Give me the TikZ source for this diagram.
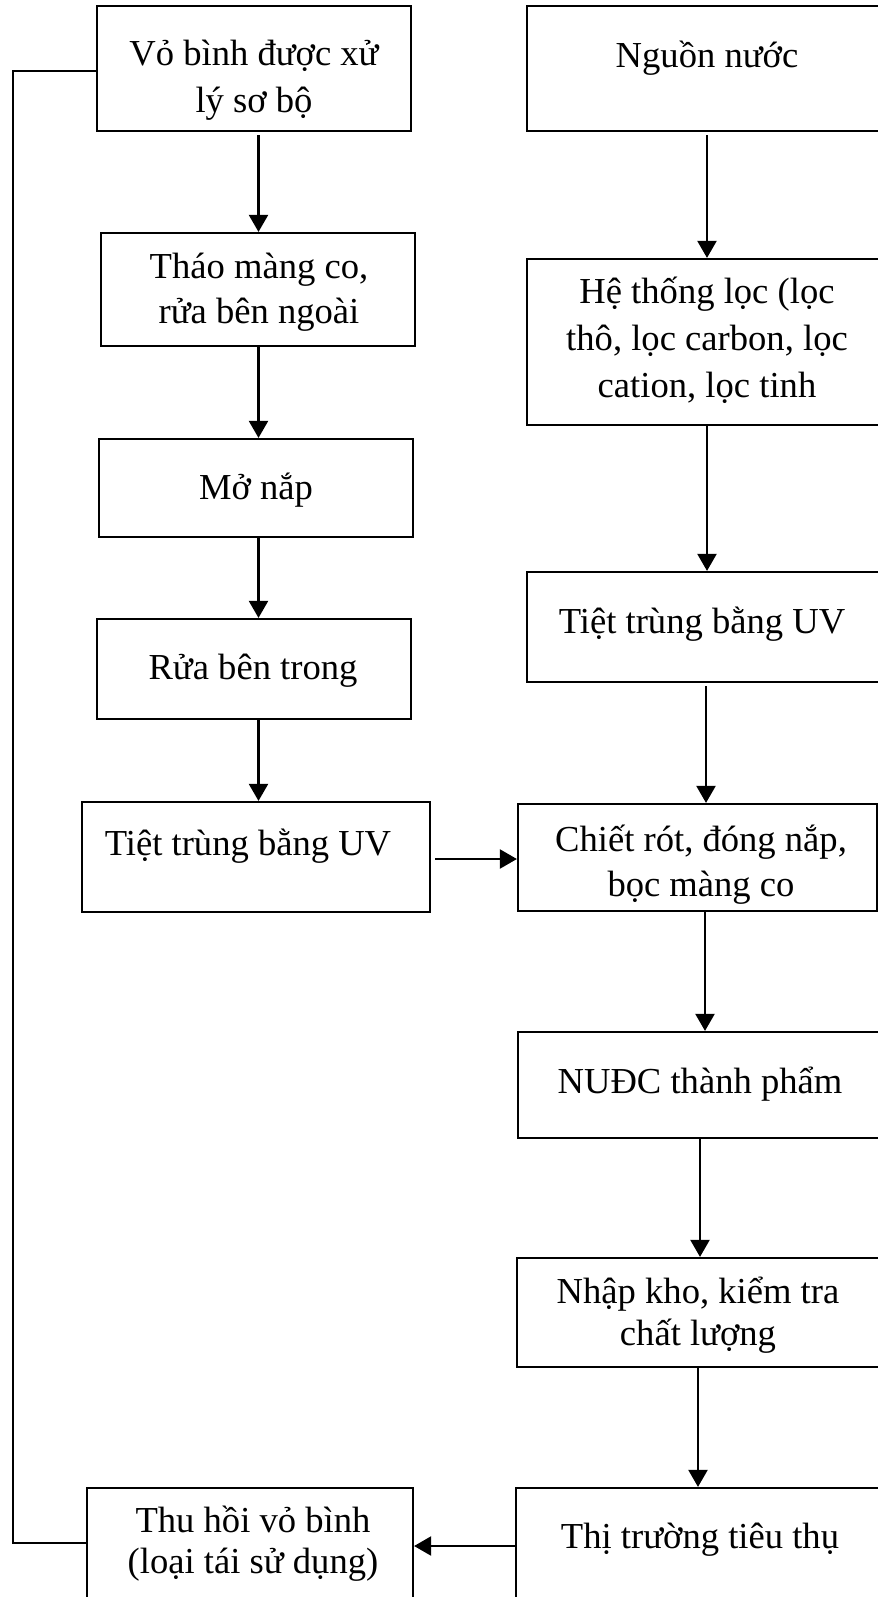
\documentclass[tikz,border=0pt]{standalone}
\usepackage{fontspec}
\setmainfont{Liberation Serif}
\usetikzlibrary{arrows.meta,fit}
\newcommand\mlines[1]{\begin{tabular}[t]{@{}c@{}}#1\end{tabular}}
\tikzset{
  box/.style={draw, line width=1.1pt, inner sep=0pt, rectangle},
  txt/.style={anchor=base, inner sep=0pt, font=\fontsize{18.3}{22.5}\selectfont},
  arr/.style={line width=1.1pt, -{Triangle[width=9.5pt,length=8.5pt]}},
  fb/.style={line width=0.7pt}
}
\begin{document}
\begin{tikzpicture}[x=0.5pt,y=-0.5pt]
\useasboundingbox (0,0) rectangle (878,1597);
% left column boxes
\node[box, fit={(97,6) (411,131)}] (b1) {};
\node[box, fit={(101,233) (415,346)}] (b2) {};
\node[box, fit={(99,439) (413,537)}] (b3) {};
\node[box, fit={(97,619) (411,719)}] (b4) {};
\node[box, fit={(82,802) (430,912)}] (b5) {};
\node[box, fit={(87,1488) (413,1612)}] (b6) {};
% right column boxes
\node[box, fit={(527,6) (887,131)}] (r1) {};
\node[box, fit={(527,259) (887,425)}] (r2) {};
\node[box, fit={(527,572) (887,682)}] (r3) {};
\node[box, fit={(518,804) (877,911)}] (r4) {};
\node[box, fit={(518,1032) (887,1138)}] (r5) {};
\node[box, fit={(517,1258) (887,1367)}] (r6) {};
\node[box, fit={(516,1488) (887,1612)}] (r7) {};
% texts
\node[txt, font=\fontsize{18.3}{23.5}\selectfont] (t1) at (254,65) {\mlines{Vỏ bình được xử\\lý sơ bộ}};
\node[txt] (t2) at (259,278) {\mlines{Tháo màng co,\\rửa bên ngoài}};
\node[txt] (t3) at (256,499) {Mở nắp};
\node[txt] (t4) at (253,679) {Rửa bên trong};
\node[txt] (t5) at (248,855) {Tiệt trùng bằng UV};
\node[txt, font=\fontsize{18.3}{20.5}\selectfont] (t6) at (253,1532) {\mlines{Thu hồi vỏ bình\\(loại tái sử dụng)}};
\node[txt] (s1) at (707,67) {Nguồn nước};
\node[txt, font=\fontsize{18.3}{23.5}\selectfont] (s2) at (707,303) {\mlines{Hệ thống lọc (lọc\\thô, lọc carbon, lọc\\cation, lọc tinh}};
\node[txt] (s3) at (702,633) {Tiệt trùng bằng UV};
\node[txt] (s4) at (701,851) {\mlines{Chiết rót, đóng nắp,\\bọc màng co}};
\node[txt] (s5) at (700,1093) {NUĐC thành phẩm};
\node[txt, font=\fontsize{18.3}{21}\selectfont] (s6) at (698,1303) {\mlines{Nhập kho, kiểm tra\\chất lượng}};
\node[txt] (s7) at (700,1548) {Thị trường tiêu thụ};
% helper coordinates
\coordinate (lx) at (258.5,0);
\coordinate (rxa) at (707,0);
\coordinate (rxb) at (706,0);
\coordinate (rxc) at (705,0);
\coordinate (rxd) at (700,0);
\coordinate (rxe) at (698,0);
\coordinate (hya) at (0,859);
\coordinate (hyb) at (0,1546);
\coordinate (fbb) at (13,1543);
\coordinate (fbt) at (13,71);
% left column arrows
\draw[arr, shorten <=1.5pt] (b1.south -| lx) -- (b2.north -| lx);
\draw[arr] (b2.south -| lx) -- (b3.north -| lx);
\draw[arr] (b3.south -| lx) -- (b4.north -| lx);
\draw[arr] (b4.south -| lx) -- (b5.north -| lx);
% right column arrows
\draw[arr, shorten <=1.5pt] (r1.south -| rxa) -- (r2.north -| rxa);
\draw[arr] (r2.south -| rxa) -- (r3.north -| rxa);
\draw[arr, shorten <=1.5pt] (r3.south -| rxb) -- (r4.north -| rxb);
\draw[arr] (r4.south -| rxc) -- (r5.north -| rxc);
\draw[arr] (r5.south -| rxd) -- (r6.north -| rxd);
\draw[arr] (r6.south -| rxe) -- (r7.north -| rxe);
% horizontal arrows
\draw[arr, shorten <=2pt] (b5.east |- hya) -- (r4.west |- hya);
\draw[arr] (r7.west |- hyb) -- (b6.east |- hyb);
% feedback line
\draw[fb] (b6.west |- fbb) -- (fbb) -- (fbt) -- (b1.west |- fbt);
\end{tikzpicture}
\end{document}
